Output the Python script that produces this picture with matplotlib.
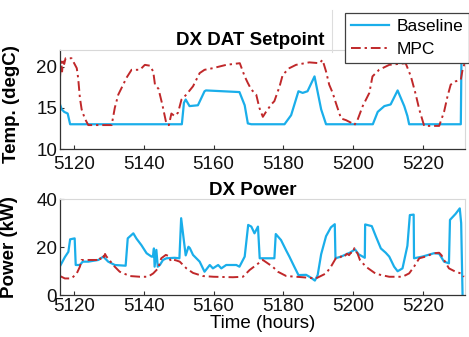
import matplotlib
matplotlib.use("Agg")
import matplotlib.pyplot as plt
from matplotlib.lines import Line2D

plt.rcParams['font.family'] = ['Liberation Sans', 'DejaVu Sans']

# ---------------- data ----------------
# Top: DX DAT Setpoint (degC)
base_top_t = [5116, 5116.5, 5117.2, 5118.2, 5118.9, 5150.9, 5151.5, 5152, 5153.1, 5155.5,
              5157.4, 5157.8, 5167.4, 5168.9, 5169.8, 5170.8, 5180.3, 5182.2, 5184.3,
              5185.5, 5186.9, 5188.9, 5190.8, 5192.2, 5205.6, 5207, 5208.9, 5210.7,
              5212.7, 5214.6, 5215.5, 5216, 5230.8, 5231.0, 5232]
base_top_v = [15.4, 14.8, 14.5, 14.3, 13, 13, 15.6, 16, 15.2, 15.3,
              17, 17.1, 16.9, 15.3, 13.1, 13, 13, 14.1, 17,
              16.8, 17, 18.8, 14.8, 13, 13, 14.5, 15.2, 15.4,
              17.1, 15.2, 14, 13, 13, 21.6, 21.6]

mpc_top_t = [5116, 5116.3, 5116.6, 5116.9, 5117.2, 5117.6, 5119.3, 5120.8, 5121.2, 5121.7,
             5122.2, 5123.1, 5124.1, 5130.8, 5131.7, 5132.7, 5134.1, 5135, 5136.5, 5138.9,
             5140.3, 5141.7, 5142.7, 5143.2, 5144.2, 5145.3, 5146.3, 5146.8, 5147.2, 5147.9,
             5148.8, 5149.8, 5150.8, 5152.2, 5154.1, 5156, 5157.4, 5159.8, 5163.6, 5167.5,
             5168.9, 5169.8, 5170.8, 5172.2, 5173.1, 5174.1, 5175, 5176.5, 5177.4, 5178.9,
             5179.8, 5181.7, 5183.6, 5187.4, 5190.3, 5191.2, 5192.2, 5193.1, 5194.1, 5195,
             5196.5, 5197.9, 5199.3, 5200.3, 5201.2, 5202.7, 5204.6, 5205.5, 5207.4, 5210.3,
             5215, 5216.5, 5217.9, 5218.9, 5220.3, 5224.6, 5226, 5227, 5227.9, 5229.3,
             5230.8, 5231.3, 5232]
mpc_top_v = [18.7, 20.6, 19.4, 20.9, 20.3, 21, 21, 19.8, 18.6, 16.2,
             14.8, 13.7, 12.9, 12.9, 15, 16.6, 17.8, 18.6, 19.6, 19.6,
             20.2, 20.1, 19.4, 17.8, 17.3, 15.4, 13.4, 12.9, 12.9, 14.3,
             14, 14.4, 16, 16.6, 17.6, 19.2, 19.6, 19.8, 20.2, 20.4,
             18.8, 18, 17.2, 16.6, 15, 13.9, 14.5, 15.4, 15.8, 17.6,
             19, 19.8, 20.2, 20.5, 20.4, 20.8, 19.4, 17.8, 16.8, 15.6,
             13.7, 13.5, 13.2, 12.9, 13.5, 15.2, 16.8, 18.8, 19.6, 20.2,
             20.4, 18.8, 16.6, 14.8, 12.8, 12.8, 14.5, 16.4, 17.8, 18.2,
             18.4, 19.6, 20.5]

# Bottom: DX Power (kW)
base_bot_t = [5116, 5117.4, 5118.4, 5118.9, 5120.2, 5120.5, 5121.7, 5122.5, 5124.1, 5127,
              5128.4, 5129.8, 5131.7, 5134.8, 5135.4, 5137, 5137.9, 5139.3, 5140.8, 5142.2,
              5142.6, 5142.9, 5143.1, 5143.6, 5144, 5144.6, 5145.5, 5146.5, 5148.8, 5150.2,
              5150.7, 5151.4, 5152, 5152.8, 5153.2, 5154.1, 5156, 5157.4, 5158.9, 5159.8,
              5161.3, 5162.2, 5163.6, 5166.5, 5167.4, 5168.9, 5169.9, 5170.8, 5171.7, 5172.7,
              5173.2, 5177.4, 5177.8, 5179.3, 5180.8, 5181.7, 5183.1, 5184.3, 5186.5, 5187.9,
              5189, 5189.8, 5190.8, 5192.2, 5193.6, 5194.7, 5194.9, 5196.5, 5199, 5200.5,
              5201.5, 5203.3, 5203.4, 5205.3, 5206.5, 5207.9, 5209.3, 5210.3, 5211.7, 5212.7,
              5214.1, 5215.5, 5216.2, 5217.3, 5217.4, 5219.8, 5223.1, 5224.6, 5226, 5227.4,
              5227.7, 5229.3, 5230.5, 5230.9, 5231.3]
base_bot_v = [12, 15.8, 18, 23.2, 23.6, 12.5, 12.5, 13.9, 13.9, 14.6,
              16, 13.9, 12.5, 12.2, 23.6, 25.7, 23.5, 20.8, 17.4, 16,
              16, 19.4, 11.8, 18.8, 11.8, 12.5, 14.6, 15.3, 15.5, 15.3,
              32, 23.6, 16.5, 20.1, 19.5, 16.7, 13.9, 9.7, 12.5, 11.1,
              12.5, 11.1, 12.5, 12.5, 11.8, 16, 29.2, 28.5, 25.7, 28.5,
              15.3, 15.3, 25.4, 22.9, 18.5, 16, 11.8, 8.3, 8.4, 7.2,
              6, 8.3, 17, 24.5, 28.2, 29.5, 15.3, 16, 17.6, 19,
              17, 15.5, 29.4, 28.7, 24.3, 19.4, 17.6, 16, 11.8, 9.9,
              11.1, 20.5, 33.3, 33.5, 15.3, 16, 17.4, 17.2, 13.9, 13.2,
              31.3, 33.8, 36.1, 30, 0]

mpc_bot_t = [5116, 5117.4, 5119.3, 5120.8, 5121.7, 5122.2, 5123.6, 5126.5, 5127.2, 5127.6,
             5128.2, 5128.6, 5128.9, 5129.3, 5129.8, 5131.2, 5133.1, 5136, 5138.9, 5141.2,
             5142.7, 5144.1, 5145, 5146.3, 5147.2, 5147.7, 5148.3, 5149.3, 5150.3, 5152.2,
             5154.1, 5156.9, 5160, 5165.5, 5168.4, 5170.3, 5172.2, 5174.1, 5175.5, 5176.9,
             5178.4, 5180.8, 5185.5, 5189.3, 5192.2, 5193.6, 5195, 5196.2, 5196.8, 5197.4,
             5198.2, 5198.8, 5199.3, 5199.9, 5200.3, 5200.7, 5201.2, 5201.9, 5203.6, 5206.5,
             5210.3, 5214.1, 5216, 5217.4, 5218.9, 5220.7, 5223.1, 5224.6, 5225.3, 5226,
             5227.4, 5229.3, 5230.8, 5231.7]
mpc_bot_v = [7.9, 6.9, 6.9, 9, 11.8, 14.6, 14.6, 14.6, 15.8, 15,
             16.5, 15.8, 17.1, 16, 15.3, 12.5, 9.7, 7.9, 7.6, 7.6,
             9, 11.1, 15.3, 16.7, 16.2, 14.2, 14.8, 14.4, 13.9, 11.1,
             9.2, 7.9, 7.6, 7.4, 7.6, 10.4, 12.5, 14.6, 13.2, 11.8,
             9.7, 7.9, 7.4, 6.9, 9, 11.8, 15.3, 15.5, 16.5, 16,
             17.2, 16.6, 17.6, 17.5, 19.5, 18.2, 17.4, 14.6, 11.8, 8.8,
             7.6, 7.6, 9, 11.8, 15.3, 16, 17.4, 17.6, 16.5, 14.6,
             11.1, 9.7, 9, 7.6]

x_ticks = [5120, 5140, 5160, 5180, 5200, 5220]
top_yticks = [10, 15, 20]
bot_yticks = [0, 20, 40]
labels = ['Baseline', 'MPC']

# ---------------- style ----------------
BLUE = '#1aaeea'
RED = '#c0282a'
DASHDOT = (0, (5, 2, 1.2, 2))
FS = 13.5

fig = plt.figure(figsize=(4.69, 3.37), dpi=100)
W, H = 469.0, 337.0

def make_ax(top_px, bot_px):
    return fig.add_axes([60 / W, 1 - bot_px / H, (465 - 60) / W, (bot_px - top_px) / H])

ax1 = make_ax(50, 149)
ax2 = make_ax(199, 295)

for ax in (ax1, ax2):
    ax.set_xlim(5116, 5232)
    ax.set_xticks(x_ticks)
    ax.tick_params(direction='in', length=3, width=0.8, color='#303030',
                   labelsize=FS, labelcolor='#111111')
    ax.tick_params(axis='y', pad=2)
    for s in ('left', 'bottom'):
        ax.spines[s].set_color('#333333')
        ax.spines[s].set_linewidth(0.9)
    for s in ('top', 'right'):
        ax.spines[s].set_color('#d8d8d8')
        ax.spines[s].set_linewidth(0.8)

l1, = ax1.plot(base_top_t, base_top_v, color=BLUE, lw=1.6, label=labels[0])
l2, = ax1.plot(mpc_top_t, mpc_top_v, color=RED, lw=1.4, ls=DASHDOT, label=labels[1])
ax1.set_ylim(10, 22)
ax1.set_yticks(top_yticks)
ax1.tick_params(axis='x', pad=5)
ax1.set_ylabel('Temp. (degC)', fontsize=FS, fontweight='bold')
ax1.yaxis.set_label_coords(-0.099, 0.45)
ax1.set_title('DX DAT Setpoint', fontsize=FS, fontweight='bold', x=0.469, pad=3.5)

ax2.plot(base_bot_t, base_bot_v, color=BLUE, lw=1.6)
ax2.plot(mpc_bot_t, mpc_bot_v, color=RED, lw=1.4, ls=DASHDOT)
ax2.set_ylim(0, 40)
ax2.set_yticks(bot_yticks)
ax2.tick_params(axis='x', pad=2)
ax2.set_ylabel('Power (kW)', fontsize=FS, fontweight='bold')
ax2.yaxis.set_label_coords(-0.103, 0.5)
ax2.set_xlabel('Time (hours)', fontsize=FS, labelpad=0)
ax2.set_title('DX Power', fontsize=FS, fontweight='bold', x=0.475, pad=3)

leg = fig.legend(handles=[l1, l2], loc='upper left',
                 bbox_to_anchor=(345 / W, 1 - 13 / H), bbox_transform=fig.transFigure,
                 fontsize=12.5, frameon=True, fancybox=False, framealpha=1,
                 edgecolor='#404040', borderpad=0.35, handlelength=2.2,
                 handletextpad=0.4, labelspacing=0.45, borderaxespad=0)
leg.get_frame().set_linewidth(0.9)

fig.add_artist(Line2D([332 / W, 332 / W], [1 - 10 / H, 1 - 52 / H],
                      transform=fig.transFigure, color='#dddddd', lw=0.8))

fig.savefig('out.png', dpi=100)
